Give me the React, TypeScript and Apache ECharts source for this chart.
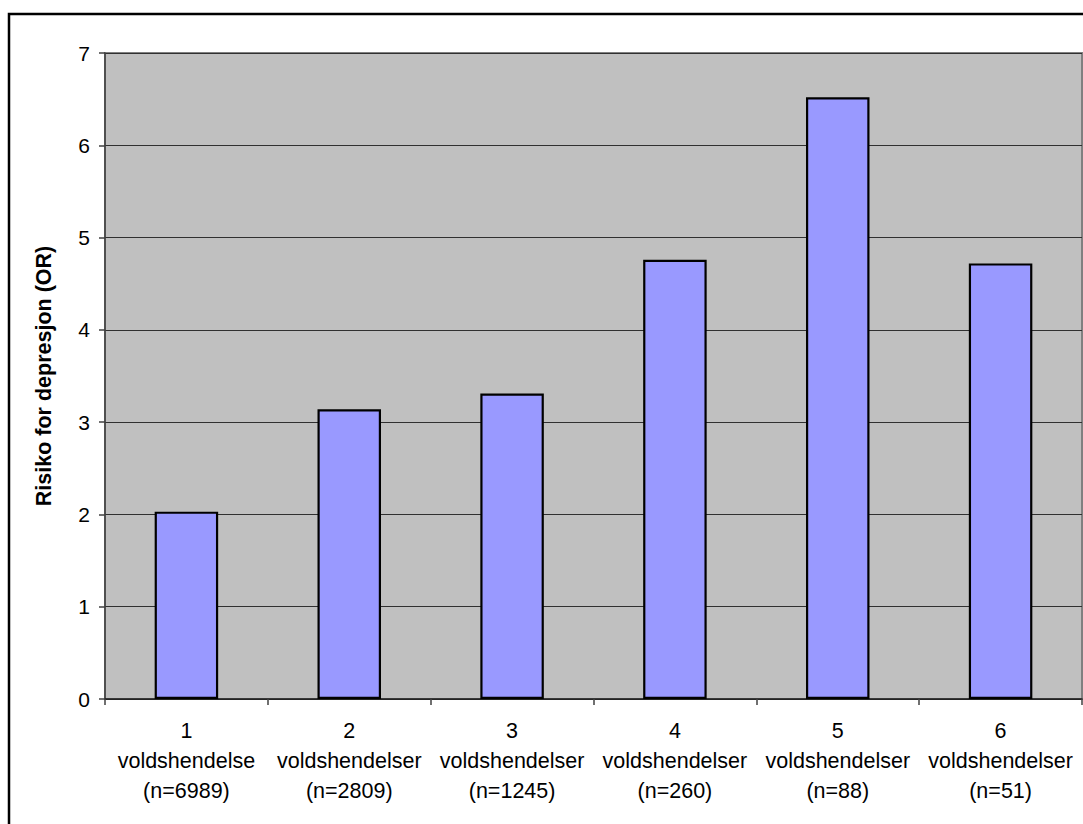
import React, { useEffect, useRef } from "react";
import * as echarts from "echarts";

const counts = ["1", "2", "3", "4", "5", "6"];
const eventWords = [
  "voldshendelse",
  "voldshendelser",
  "voldshendelser",
  "voldshendelser",
  "voldshendelser",
  "voldshendelser",
];
const sampleSizes = ["(n=6989)", "(n=2809)", "(n=1245)", "(n=260)", "(n=88)", "(n=51)"];
const oddsRatios = [2.03, 3.14, 3.31, 4.76, 6.52, 4.72];
const yAxisTitle = "Risiko for depresjon (OR)";

const categories = counts.map((c, i) => `${c}\n${eventWords[i]}\n${sampleSizes[i]}`);

const FONT = "'Liberation Sans', Arial, sans-serif";

export default function App() {
  const ref = useRef<HTMLDivElement>(null);

  useEffect(() => {
    document.body.style.margin = "0";
    if (!ref.current) return;
    const chart = echarts.init(ref.current, null, { renderer: "svg" });
    chart.setOption({
      animation: false,
      backgroundColor: "#ffffff",
      textStyle: { fontFamily: FONT },
      graphic: [
        {
          type: "rect",
          shape: { x: 9, y: 14, width: 1200, height: 1000 },
          style: { fill: "none", stroke: "#000000", lineWidth: 2.5 },
          silent: true,
          z: 100,
        },
      ],
      grid: {
        left: 105,
        top: 53,
        right: 1,
        bottom: 125,
        show: true,
        backgroundColor: "#C0C0C0",
        borderColor: "#808080",
        borderWidth: 2,
      },
      xAxis: {
        type: "category",
        data: categories,
        boundaryGap: true,
        axisLine: { show: true, lineStyle: { color: "#202020", width: 1.5 } },
        axisTick: { show: true, length: 6, lineStyle: { color: "#404040", width: 1.5 } },
        axisLabel: {
          interval: 0,
          margin: 17,
          color: "#000000",
          fontSize: 21.5,
          lineHeight: 30,
          fontFamily: FONT,
        },
      },
      yAxis: {
        type: "value",
        min: 0,
        max: 7,
        interval: 1,
        name: yAxisTitle,
        nameLocation: "middle",
        nameGap: 50,
        nameTextStyle: {
          fontSize: 21.5,
          fontWeight: "bold",
          color: "#000000",
          fontFamily: FONT,
        },
        axisLine: { show: true, lineStyle: { color: "#404040", width: 1.5 } },
        axisTick: { show: true, length: 6, lineStyle: { color: "#404040", width: 1.5 } },
        axisLabel: {
          margin: 15,
          color: "#000000",
          fontSize: 21,
          fontFamily: FONT,
        },
        splitLine: { show: true, lineStyle: { color: "#303030", width: 1.2 } },
      },
      series: [
        {
          type: "bar",
          data: oddsRatios,
          barWidth: "39%",
          itemStyle: {
            color: "#9999FF",
            borderColor: "#000000",
            borderWidth: 2.2,
          },
        },
      ],
    });
    return () => chart.dispose();
  }, []);

  return <div ref={ref} style={{ width: 1083, height: 824 }} />;
}
